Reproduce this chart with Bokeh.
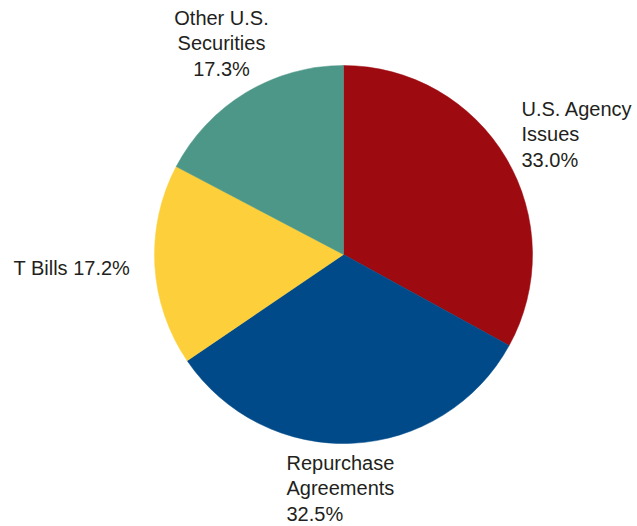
import math
from bokeh.plotting import figure
from bokeh.models import Range1d, ColumnDataSource
from bokeh.core.properties import value
from bokeh.embed import file_html
from bokeh.resources import INLINE

# ---- data ----
categories = ["U.S. Agency Issues", "Repurchase Agreements", "T Bills", "Other U.S. Securities"]
shares = [33.0, 32.5, 17.2, 17.3]
label_lines = [
    ["U.S. Agency", "Issues", "33.0%"],
    ["Repurchase", "Agreements", "32.5%"],
    ["T Bills 17.2%"],
    ["Other U.S.", "Securities", "17.3%"],
]
colors = ["#9D0A10", "#004A89", "#FDD03B", "#4C9788"]

# ---- layout (page pixel coordinates) ----
W, H = 637, 526
CX, CY, R = 343, 254, 189
# first-line anchor and alignment for each label
label_anchor = [(521, 108, "left"), (286, 462, "left"), (13, 267, "left"), (221, 17, "center")]
LINE_GAP = 25.5
FONT = "Liberation Sans"
FSIZE = "20px"


def ty(page_y):
    return H - page_y


p = figure(width=W, height=H, output_backend="svg", toolbar_location=None,
           x_range=Range1d(0, W), y_range=Range1d(0, H),
           min_border=0, outline_line_color=None)
p.axis.visible = False
p.grid.visible = False
p.background_fill_color = "white"
p.border_fill_color = "white"

total = sum(shares)
starts, ends = [], []
cum = 0.0
for s in shares:
    a0 = math.pi / 2 - 2 * math.pi * cum / total
    cum += s
    a1 = math.pi / 2 - 2 * math.pi * cum / total
    starts.append(a1)
    ends.append(a0)

src = ColumnDataSource(dict(start=starts, end=ends, color=colors, cat=categories))
p.wedge(x=CX, y=ty(CY), radius=R, start_angle="start", end_angle="end",
        color="color", line_color="color", line_width=0.5, source=src)

xs, ys, texts, aligns = [], [], [], []
for lines, (ax, ay, al) in zip(label_lines, label_anchor):
    for i, line in enumerate(lines):
        xs.append(ax)
        ys.append(ty(ay + i * LINE_GAP))
        texts.append(line)
        aligns.append(al)

tsrc = ColumnDataSource(dict(x=xs, y=ys, text=texts, align=aligns))
p.text(x="x", y="y", text="text", text_align="align", text_baseline="alphabetic",
       text_font=value(FONT), text_font_size=value(FSIZE), text_color="#231F20",
       source=tsrc)

open("out.html", "w").write(file_html(p, INLINE))
